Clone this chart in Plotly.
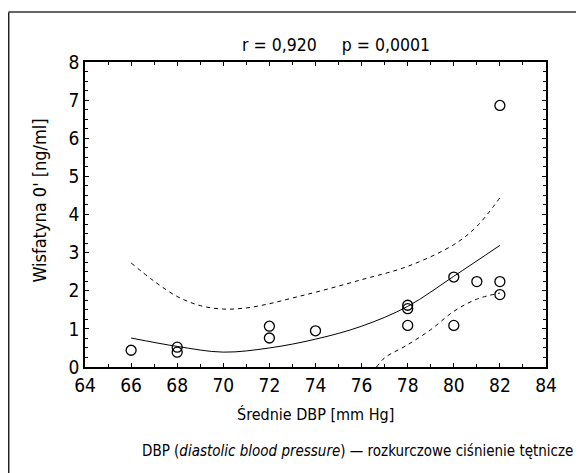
import plotly.graph_objects as go

# measured points (DBP vs wisfatyna)
dbp = [66, 68, 68, 72, 72, 74, 78, 78, 78, 80, 80, 81, 82, 82, 82]
wisf = [0.44, 0.52, 0.39, 1.07, 0.76, 0.95, 1.62, 1.53, 1.09, 2.36, 1.09, 2.24, 6.86, 2.24, 1.90]

# fitted curve and confidence band
fit_x = [66, 68, 70, 72, 74, 76, 78, 80, 82]
fit_y = [0.76, 0.54, 0.39, 0.50, 0.73, 1.07, 1.59, 2.38, 3.19]
up_x = [66, 67, 68, 69, 70, 71, 72, 73, 74, 76, 78, 80, 81, 82]
up_y = [2.73, 2.25, 1.85, 1.61, 1.52, 1.55, 1.66, 1.81, 1.96, 2.29, 2.64, 3.21, 3.69, 4.44]
lo_x = [76.65, 77, 78, 79, 80, 81, 82]
lo_y = [0.0, 0.24, 0.585, 0.98, 1.46, 1.78, 1.94]

FONT = "DejaVu Sans Condensed, Liberation Sans Narrow, sans-serif"

fig = go.Figure()
fig.add_trace(go.Scatter(x=fit_x, y=fit_y, mode="lines", line=dict(color="black", width=1, shape="spline")))
fig.add_trace(go.Scatter(x=up_x, y=up_y, mode="lines", line=dict(color="black", width=1, dash="4px,4px", shape="spline")))
fig.add_trace(go.Scatter(x=lo_x, y=lo_y, mode="lines", line=dict(color="black", width=1, dash="4px,4px", shape="spline")))
fig.add_trace(go.Scatter(x=dbp, y=wisf, mode="markers",
                         marker=dict(symbol="circle-open", size=10, color="black", line=dict(width=1.3))))

axis_common = dict(showgrid=False, zeroline=False, showline=True, linecolor="black", linewidth=1.5,
                   mirror="allticks", ticks="inside", ticklen=4, tickcolor="black",
                   tickfont=dict(family=FONT, size=19, color="black"))
fig.update_xaxes(range=[64, 84], tickvals=list(range(64, 86, 2)),
                 minor=dict(dtick=1, ticks="inside", ticklen=3, tickcolor="black"), **axis_common)
fig.update_yaxes(range=[0, 8], tickvals=list(range(0, 9)),
                 minor=dict(dtick=0.25, ticks="inside", ticklen=3, tickcolor="black"), **axis_common)

# page body has an 8px margin, so the figure is 8px smaller and shifted
fig.update_layout(
    width=576, height=465, showlegend=False,
    margin=dict(l=77, r=38, t=54, b=106),
    plot_bgcolor="white", paper_bgcolor="white",
    font=dict(family=FONT, color="black"),
    annotations=[
        dict(text="r = 0,920     p = 0,0001", x=0.545, y=1.056, xref="paper", yref="paper",
             showarrow=False, font=dict(size=17.5), xanchor="center", yanchor="middle"),
        dict(text="Wisfatyna 0' [ng/ml]", x=-0.098, y=0.545, xref="paper", yref="paper",
             showarrow=False, textangle=-90, font=dict(size=18), xanchor="center", yanchor="middle"),
        dict(text="Średnie DBP [mm Hg]", x=0.5, y=-0.156, xref="paper", yref="paper",
             showarrow=False, font=dict(size=16), xanchor="center", yanchor="middle"),
        dict(text="DBP (<i>diastolic blood pressure</i>) — rozkurczowe ciśnienie tętnicze",
             x=1.062, y=-0.277, xref="paper", yref="paper", showarrow=False,
             font=dict(size=15), xanchor="right", yanchor="middle"),
    ],
    shapes=[
        dict(type="line", xref="paper", yref="paper", x0=-0.166, x1=-0.166, y0=1.164, y1=-0.4,
             line=dict(color="#222222", width=2)),
        dict(type="line", xref="paper", yref="paper", x0=-0.166, x1=1.2, y0=1.164, y1=1.164,
             line=dict(color="#666666", width=2)),
    ],
)

fig.write_html("out.html")
